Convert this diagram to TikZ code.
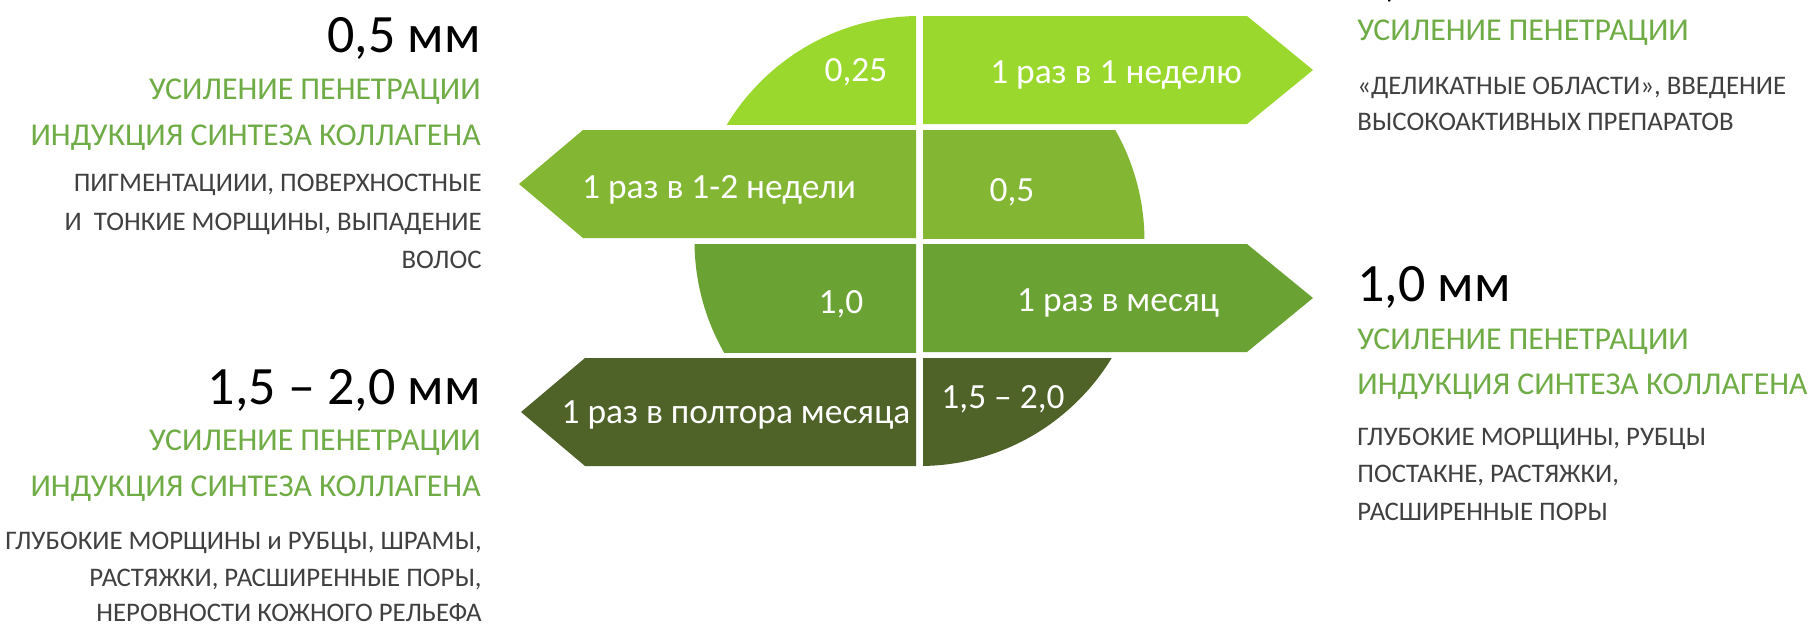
\documentclass[tikz,border=0pt]{standalone}
\usepackage{fontspec}
\setmainfont{Carlito}
\definecolor{gA}{HTML}{9AD82D}
\definecolor{gB}{HTML}{82B633}
\definecolor{gC}{HTML}{6AA233}
\definecolor{gD}{HTML}{4F6228}
\definecolor{txtgreen}{HTML}{6FAC46}
\definecolor{txtgray}{HTML}{404040}
\begin{document}
\begin{tikzpicture}[x=0.5pt,y=-0.5pt,
  head/.style={inner sep=0pt,font=\fontsize{27}{27}\selectfont,text=black},
  grn/.style={inner sep=0pt,font=\fontsize{15.9}{15.9}\selectfont,text=txtgreen},
  gry/.style={inner sep=0pt,font=\fontsize{13.4}{13.4}\selectfont,text=txtgray},
  lbl/.style={inner sep=0pt,font=\fontsize{17.7}{17.7}\selectfont,text=white,anchor=base},
]
\clip (0,0) rectangle (1812,628);
\fill[white] (0,0) rectangle (1812,628);
% circle pieces
\begin{scope}
\clip (600,16) rectangle (916,124);
\fill[gA] (919.5,241) circle[radius=112.5pt];
\end{scope}
\begin{scope}
\clip (923,130) rectangle (1200,238);
\fill[gB] (919.5,241) circle[radius=112.5pt];
\end{scope}
\begin{scope}
\clip (600,244) rectangle (916,352);
\fill[gC] (919.5,241) circle[radius=112.5pt];
\end{scope}
\begin{scope}
\clip (923,358) rectangle (1200,466);
\fill[gD] (919.5,241) circle[radius=112.5pt];
\end{scope}
% arrow pieces
\fill[gA] (923,16) -- (1247,16) -- (1313,70) -- (1247,124) -- (923,124) -- cycle;
\fill[gB] (916,130) -- (583,130) -- (519,184) -- (583,238) -- (916,238) -- cycle;
\fill[gC] (923,244) -- (1247,244) -- (1313,298) -- (1247,352) -- (923,352) -- cycle;
\fill[gD] (916,358) -- (585,358) -- (521,412) -- (585,466) -- (916,466) -- cycle;
% labels inside
\node[lbl] (t1a) at (856,81) {0,25};
\node[lbl] (t1b) at (1116,83.3) {1 раз в 1 неделю};
\node[lbl] (t2a) at (719,198.3) {1 раз в 1-2 недели};
\node[lbl] (t2b) at (1012,201.7) {0,5};
\node[lbl] (t3a) at (841,313.3) {1,0};
\node[lbl] (t3b) at (1118,311.7) {1 раз в месяц};
\node[lbl] (t4a) at (736,423) {1 раз в полтора месяца};
\node[lbl] (t4b) at (1003,408.3) {1,5 – 2,0};
% left top block
\node[head,anchor=base east] (h05) at (481,52.7) {0,5 мм};
\node[grn,anchor=base east] (g05a) at (481,99) {УСИЛЕНИЕ ПЕНЕТРАЦИИ};
\node[grn,anchor=base east] (g05b) at (481,145) {ИНДУКЦИЯ СИНТЕЗА КОЛЛАГЕНА};
\node[gry,anchor=base east] (d05a) at (482,191.7) {ПИГМЕНТАЦИИИ, ПОВЕРХНОСТНЫЕ};
\node[gry,anchor=base east] (d05b) at (482,230) {И\ \ ТОНКИЕ МОРЩИНЫ, ВЫПАДЕНИЕ};
\node[gry,anchor=base east] (d05c) at (482,268) {ВОЛОС};
% left bottom block
\node[head,anchor=base east] (h15) at (481,404) {1,5 – 2,0 мм};
\node[grn,anchor=base east] (g15a) at (481,450) {УСИЛЕНИЕ ПЕНЕТРАЦИИ};
\node[grn,anchor=base east] (g15b) at (481,496.7) {ИНДУКЦИЯ СИНТЕЗА КОЛЛАГЕНА};
\node[gry,anchor=base east] (d15a) at (482,549.3) {ГЛУБОКИЕ МОРЩИНЫ и РУБЦЫ, ШРАМЫ,};
\node[gry,anchor=base east] (d15b) at (482,586.3) {РАСТЯЖКИ, РАСШИРЕННЫЕ ПОРЫ,};
\node[gry,anchor=base east] (d15c) at (482,621.5) {НЕРОВНОСТИ КОЖНОГО РЕЛЬЕФА};
% right top block (heading lies above the frame, only its comma shows)
\node[head,anchor=base west] (h025) at (1357,-5) {0,25 мм};
\node[grn,anchor=base west] (g025a) at (1357,40.7) {УСИЛЕНИЕ ПЕНЕТРАЦИИ};
\node[gry,anchor=base west] (d025a) at (1357,94.3) {«ДЕЛИКАТНЫЕ ОБЛАСТИ», ВВЕДЕНИЕ};
\node[gry,anchor=base west] (d025b) at (1357,130.7) {ВЫСОКОАКТИВНЫХ ПРЕПАРАТОВ};
% right bottom block
\node[head,anchor=base west] (h10) at (1357,301) {1,0 мм};
\node[grn,anchor=base west] (g10a) at (1357,349.3) {УСИЛЕНИЕ ПЕНЕТРАЦИИ};
\node[grn,anchor=base west] (g10b) at (1357,394) {ИНДУКЦИЯ СИНТЕЗА КОЛЛАГЕНА};
\node[gry,anchor=base west] (d10a) at (1357,445) {ГЛУБОКИЕ МОРЩИНЫ, РУБЦЫ};
\node[gry,anchor=base west] (d10b) at (1357,482.3) {ПОСТАКНЕ, РАСТЯЖКИ,};
\node[gry,anchor=base west] (d10c) at (1357,520) {РАСШИРЕННЫЕ ПОРЫ};
\end{tikzpicture}
\end{document}
